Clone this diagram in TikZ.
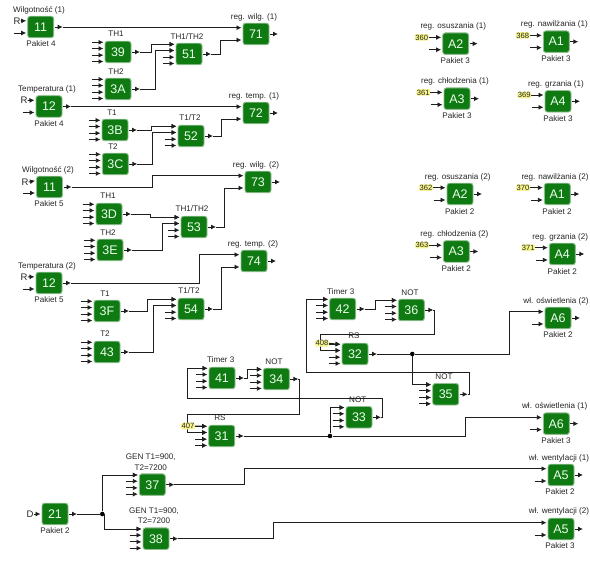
\documentclass[tikz,border=0pt]{standalone}
\usepackage{fontspec}
\setmainfont{Liberation Sans}
\usetikzlibrary{arrows.meta}
\definecolor{blockgreen}{HTML}{0F7A12}
\definecolor{blockedge}{HTML}{8FBF8F}
\definecolor{wirecol}{HTML}{1E1E1E}
\definecolor{tagyellow}{HTML}{F6F48A}
\tikzset{
  blockbox/.style={draw=blockedge,line width=0.9pt,fill=blockgreen,rounded corners=2.5pt,minimum width=26pt,minimum height=21.5pt,inner sep=0pt,text=white!92!green,font=\fontsize{12.5}{13}\selectfont},
  wire/.style={draw=wirecol,line width=0.9pt},
  tip/.style={-{Latex[length=5pt,width=5pt]}},
  capt/.style={inner sep=0pt,text=black!85,font=\fontsize{8.1}{9}\selectfont},
  srcl/.style={inner sep=0pt,text=black!85,font=\fontsize{9.5}{11}\selectfont},
  tagbox/.style={inner sep=0.6pt,fill=tagyellow,rounded corners=1.5pt,text=black!85,font=\fontsize{7.6}{8}\selectfont},
  dotmark/.style={circle,fill=black,inner sep=0pt,minimum size=4.6pt},
}
% block with two inputs
\newcommand\blkii[4]{%
  \node[blockbox] (#1) at (#2,#3) {#4};
  \coordinate (#1-i1) at (#2-14.5,#3-6.3);
  \coordinate (#1-i2) at (#2-14.5,#3+6);
  \coordinate (#1-o) at (#2+22,#3);
  \draw[wire,tip] (#1-o)++(-8,0) -- (#1-o);
}
% block with four inputs
\newcommand\blkiv[4]{%
  \node[blockbox] (#1) at (#2,#3) {#4};
  \coordinate (#1-i1) at (#2-14.5,#3-9.7);
  \coordinate (#1-i2) at (#2-14.5,#3-3.5);
  \coordinate (#1-i3) at (#2-14.5,#3+3.2);
  \coordinate (#1-i4) at (#2-14.5,#3+9.5);
  \coordinate (#1-o) at (#2+22,#3);
  \draw[wire,tip] (#1-o)++(-8,0) -- (#1-o);
  \foreach \k in {1,2,3,4} {\draw[wire,tip] (#1-i\k)++(-12,0) -- (#1-i\k);}
}
\newcommand\stub[1]{\draw[wire,tip] (#1)++(-12,0) -- (#1);}
% source: out -> vertical at x -> input
\newcommand\conn[3]{\draw[wire,tip] (#1-o) -- (#1-o -| #2,0) -- (#2,0 |- #3) -- (#3);}
\begin{document}
\begin{tikzpicture}[x=1pt,y=-1pt]
\useasboundingbox (0,0) rectangle (590,564);
\fill[white] (0,0) rectangle (590,564);

% --- left column, sensor blocks
\blkii{s1}{40.7}{27}{11}
\blkii{s2}{49}{106.5}{12}
\blkii{s3}{49.5}{187}{11}
\blkii{s4}{49}{283}{12}
\stub{s1-i2}\stub{s2-i2}\stub{s3-i2}\stub{s4-i2}
\node[capt] (c1a) at (39,10) {Wilgotność (1)};
\node[capt] (c1b) at (41,44) {Pakiet 4};
\node[capt] (c2a) at (47,89) {Temperatura (1)};
\node[capt] (c2b) at (49,124) {Pakiet 4};
\node[capt] (c3a) at (48,170) {Wilgotność (2)};
\node[capt] (c3b) at (49,204) {Pakiet 5};
\node[capt] (c4a) at (47,266) {Temperatura (2)};
\node[capt] (c4b) at (49,300) {Pakiet 5};
\node[srcl] (r1) at (17,21) {R};
\node[srcl] (r2) at (24,100.5) {R};
\node[srcl] (r3) at (25,182) {R};
\node[srcl] (r4) at (24,277) {R};
\draw[wire,tip] (r1.east) -- (s1-i1);
\draw[wire,tip] (r2.east) -- (s2-i1);
\draw[wire,tip] (r3.east) -- (s3-i1);
\draw[wire,tip] (r4.east) -- (s4-i1);

% --- 4-input blocks
\blkiv{b39}{118}{52}{39}
\blkiv{b3A}{118}{89}{3A}
\blkiv{b51}{189}{54}{51}
\blkiv{b3B}{115}{130}{3B}
\blkiv{b3C}{115.3}{164}{3C}
\blkiv{b52}{191}{136}{52}
\blkiv{b3D}{109}{214}{3D}
\blkiv{b3E}{110}{250}{3E}
\blkiv{b53}{194}{227}{53}
\blkiv{b3F}{107}{311}{3F}
\blkiv{b43}{107}{352}{43}
\blkiv{b54}{191}{309}{54}
\node[capt] (t39) at (116,34) {TH1};
\node[capt] (t3A) at (116,72) {TH2};
\node[capt] (t51) at (187,37) {TH1/TH2};
\node[capt] (t3B) at (112,113) {T1};
\node[capt] (t3C) at (113,147) {T2};
\node[capt] (t52) at (190,118) {T1/T2};
\node[capt] (t3D) at (108,196) {TH1};
\node[capt] (t3E) at (108,233) {TH2};
\node[capt] (t53) at (192,209) {TH1/TH2};
\node[capt] (t3F) at (105,294) {T1};
\node[capt] (t43) at (105,334) {T2};
\node[capt] (t54) at (189,291) {T1/T2};

% --- regulator blocks
\blkii{b71}{256}{34}{71}
\blkii{b72}{256}{113}{72}
\blkii{b73}{258}{182}{73}
\blkii{b74}{254}{261}{74}
\node[capt] (t71) at (254,17) {reg. wilg. (1)};
\node[capt] (t72) at (254,96) {reg. temp. (1)};
\node[capt] (t73) at (256,165) {reg. wilg. (2)};
\node[capt] (t74) at (253,244) {reg. temp. (2)};

\conn{s1}{146}{b71-i1}
\conn{b39}{151}{b51-i1}
\conn{b3A}{155.5}{b51-i2}
\conn{b51}{220}{b71-i2}
\conn{s2}{180}{b72-i1}
\conn{b3B}{151}{b52-i1}
\conn{b3C}{152}{b52-i2}
\conn{b52}{221}{b72-i2}
\conn{s3}{152}{b73-i1}
\conn{b3D}{150}{b53-i1}
\conn{b3E}{162.5}{b53-i2}
\conn{b53}{224}{b73-i2}
\conn{s4}{199}{b74-i1}
\conn{b3F}{147}{b54-i1}
\conn{b43}{153.5}{b54-i2}
\conn{b54}{221}{b74-i2}

% --- top right outputs
\blkii{a1}{455.7}{43.7}{A2}
\blkii{a2}{556.3}{41.7}{A1}
\blkii{a3}{457}{98.7}{A3}
\blkii{a4}{558}{101.3}{A4}
\blkii{a5}{460}{194}{A2}
\blkii{a6}{557.3}{194}{A1}
\blkii{a7}{456.3}{251.5}{A3}
\blkii{a8}{562.3}{254}{A4}
\stub{a1-i2}\stub{a2-i2}\stub{a3-i2}\stub{a4-i2}\stub{a5-i2}\stub{a6-i2}\stub{a7-i2}\stub{a8-i2}
\node[capt] (ta1) at (453.3,26.7) {reg. osuszania (1)};
\node[capt] (pa1) at (455.3,61) {Pakiet 3};
\node[capt] (ta2) at (554.3,24.7) {reg. nawilżania (1)};
\node[capt] (pa2) at (556,59) {Pakiet 3};
\node[capt] (ta3) at (455,81.7) {reg. chłodzenia (1)};
\node[capt] (pa3) at (457,116) {Pakiet 3};
\node[capt] (ta4) at (556,84.3) {reg. grzania (1)};
\node[capt] (pa4) at (558,118.3) {Pakiet 3};
\node[capt] (ta5) at (457.7,177.3) {reg. osuszania (2)};
\node[capt] (pa5) at (459.7,211.3) {Pakiet 2};
\node[capt] (ta6) at (555,177.3) {reg. nawilżania (2)};
\node[capt] (pa6) at (557,211.3) {Pakiet 2};
\node[capt] (ta7) at (454.3,234) {reg. chłodzenia (2)};
\node[capt] (pa7) at (456.3,268.3) {Pakiet 2};
\node[capt] (ta8) at (560.3,237) {reg. grzania (2)};
\node[capt] (pa8) at (562.3,271.7) {Pakiet 2};
\node[tagbox] (l1) at (421.7,37.4) {360};
\node[tagbox] (l2) at (522.7,35.4) {368};
\node[tagbox] (l3) at (423.3,92.4) {361};
\node[tagbox] (l4) at (524.3,95) {369};
\node[tagbox] (l5) at (426,187.7) {362};
\node[tagbox] (l6) at (523,187.7) {370};
\node[tagbox] (l7) at (422,245.2) {363};
\node[tagbox] (l8) at (528.3,247.7) {371};
\draw[wire,tip] (l1.east) -- (a1-i1);
\draw[wire,tip] (l2.east) -- (a2-i1);
\draw[wire,tip] (l3.east) -- (a3-i1);
\draw[wire,tip] (l4.east) -- (a4-i1);
\draw[wire,tip] (l5.east) -- (a5-i1);
\draw[wire,tip] (l6.east) -- (a6-i1);
\draw[wire,tip] (l7.east) -- (a7-i1);
\draw[wire,tip] (l8.east) -- (a8-i1);

% --- lighting logic
\blkiv{b41}{222}{378}{41}
\blkiv{b34}{276.3}{379}{34}
\blkiv{b31}{221.7}{436}{31}
\blkiv{b33}{359}{417.3}{33}
\blkiv{b42}{342.7}{309}{42}
\blkiv{b36}{411.3}{310}{36}
\blkiv{b32}{355}{354}{32}
\blkiv{b35}{445.7}{394.3}{35}
\node[capt] (t41) at (220.7,360) {Timer 3};
\node[capt] (t34) at (274,362) {NOT};
\node[capt] (t31) at (220,418) {RS};
\node[capt] (t33) at (357.7,400) {NOT};
\node[capt] (t42) at (340.7,292) {Timer 3};
\node[capt] (t36) at (410,293) {NOT};
\node[capt] (t32) at (354,336) {RS};
\node[capt] (t35) at (444,377) {NOT};

\blkii{o1}{558}{318}{A6}
\blkii{o2}{556.3}{423.7}{A6}
\blkii{o3}{561}{475}{A5}
\blkii{o4}{561}{529}{A5}
\stub{o1-i2}\stub{o2-i2}\stub{o3-i2}\stub{o4-i2}
\node[capt] (to1) at (556,301) {wł. oświetlenia (2)};
\node[capt] (po1) at (558,335) {Pakiet 2};
\node[capt] (to2) at (554.7,406) {wł. oświetlenia (1)};
\node[capt] (po2) at (556,440.7) {Pakiet 3};
\node[capt] (to3) at (559,458) {wł. wentylacji (1)};
\node[capt] (po3) at (560,492) {Pakiet 2};
\node[capt] (to4) at (559,511.7) {wł. wentylacji (2)};
\node[capt] (po4) at (560,546) {Pakiet 3};

\node[dotmark] (d1) at (412.3,354) {};
\node[dotmark] (d2) at (330,436) {};
\node[dotmark] (d3) at (102.3,514) {};

% feedback wiring
\conn{b41}{247.3}{b34-i1}
\draw[wire,tip] (b34-o) -- (299,379) -- (299,414.5) -- (187,414.5) -- (187 ,0 |- b31-i2) -- (b31-i2);
\draw[wire,tip] (b33-o) -- (382.3,417.3) -- (382.3,398.5) -- (187.7,398.5) -- (187.7,0 |- b41-i1) -- (b41-i1);
\conn{b42}{375}{b36-i1}
\draw[wire,tip] (b36-o) -- (434.3,310) -- (434.3,334.3) -- (320,334.3) -- (320,0 |- b32-i2) -- (b32-i2);
\draw[wire,tip] (b35-o) -- (469.7,394.3) -- (469.7,372.3) -- (306.7,372.3) -- (306.7,0 |- b42-i1) -- (b42-i1);
\draw[wire] (b32-o) -- (d1);
\draw[wire,tip] (d1) -- (509.7,354) -- (509.7,0 |- o1-i1) -- (o1-i1);
\draw[wire,tip] (d1) -- (412.3,0 |- b35-i1) -- (b35-i1);
\draw[wire] (b31-o) -- (d2);
\draw[wire,tip] (d2) -- (465.3,436) -- (465.3,0 |- o2-i1) -- (o2-i1);
\draw[wire,tip] (d2) -- (330,0 |- b33-i1) -- (b33-i1);
\node[tagbox] (l9) at (322,343.3) {408};
\node[tagbox] (l10) at (188,426) {407};
\draw[wire,tip] (l9.east) -- (b32-i1);
\draw[wire,tip] (l10.east) -- (b31-i1);

% --- ventilation
\blkiv{b37}{152.3}{484.7}{37}
\blkiv{b38}{156}{538.7}{38}
\blkii{b21}{55}{514}{21}
\node[capt] (t37a) at (150.7,456.7) {GEN T1=900,};
\node[capt] (t37b) at (150.7,467.3) {T2=7200};
\node[capt] (t38a) at (154,510.7) {GEN T1=900,};
\node[capt] (t38b) at (154,521) {T2=7200};
\node[capt] (t21) at (55,531) {Pakiet 2};
\node[srcl] (src) at (30,514) {D};
\draw[wire,tip] (src.east) -- (40.5,514);
\draw[wire] (b21-o) -- (d3);
\draw[wire,tip] (d3) -- (102.3,0 |- b37-i1) -- (b37-i1);
\draw[wire,tip] (d3) -- (104,514) -- (104,0 |- b38-i1) -- (b38-i1);
\conn{b37}{244}{o3-i1}
\conn{b38}{273.5}{o4-i1}
\end{tikzpicture}
\end{document}
